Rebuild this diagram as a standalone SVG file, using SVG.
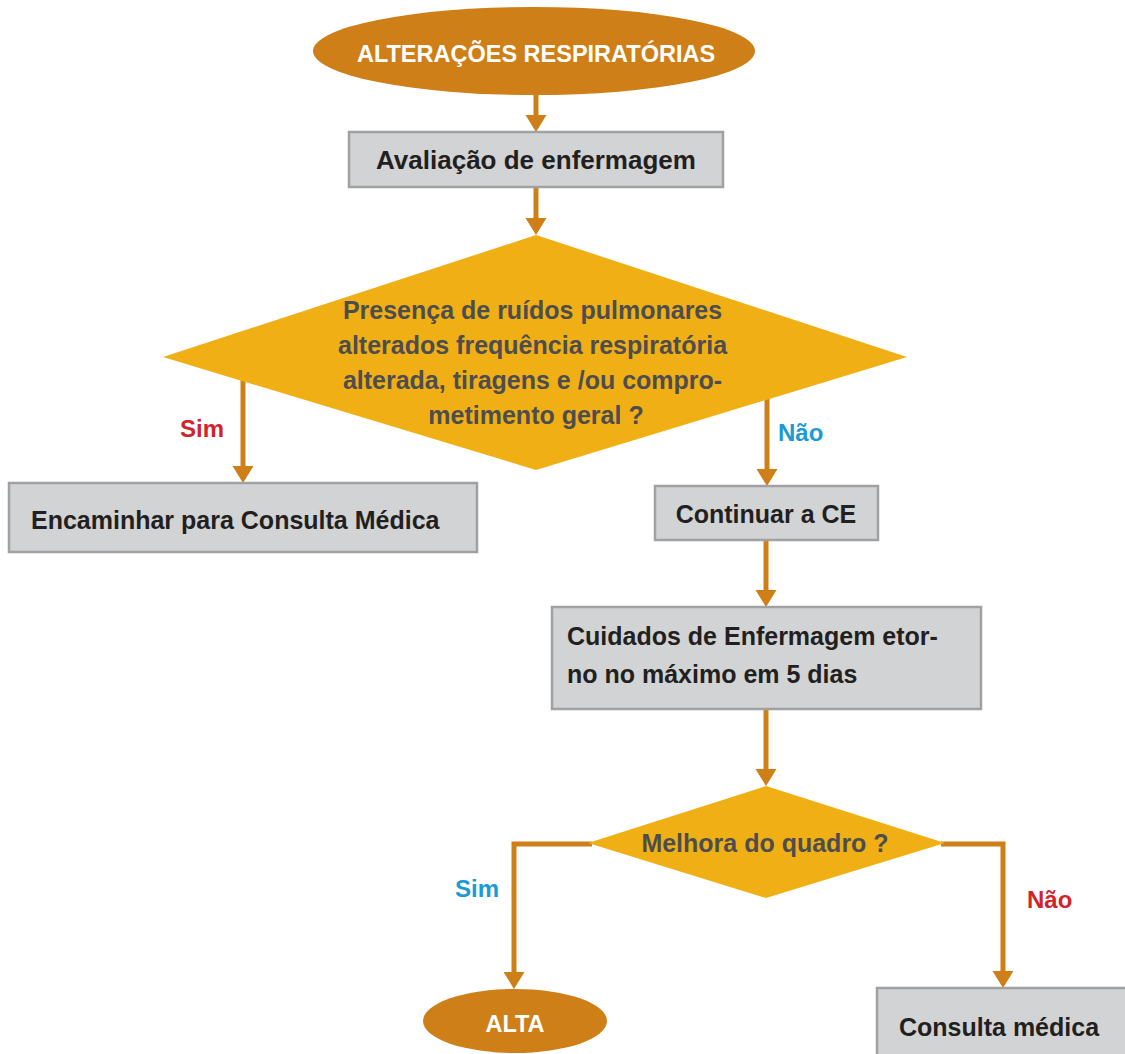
<svg xmlns="http://www.w3.org/2000/svg" width="1125" height="1054" viewBox="0 0 1125 1054">
<style>
  .term { fill: #cf7f17; }
  .box { fill: #d1d3d4; stroke: #a0a1a3; stroke-width: 2.5; }
  .dia { fill: #f0b015; }
  .conn { fill: none; stroke: #cf7f17; stroke-width: 5; }
  text { font-family: "Liberation Sans", Arial, sans-serif; font-weight: bold; }
  .wt { fill: #ffffff; font-size: 23.5px; }
  .bt { fill: #231f20; font-size: 25px; }
  .dt { fill: #4d4d4f; font-size: 25px; }
  .red { fill: #d2232a; font-size: 24px; }
  .blue { fill: #1b9ad6; font-size: 24px; }
</style>
<defs>
  <marker id="arrow" markerUnits="userSpaceOnUse" markerWidth="18" markerHeight="22" refX="0" refY="10.5" orient="auto">
    <path d="M0,0 L17,10.5 L0,21 Z" fill="#cf7f17"/>
  </marker>
</defs>
<rect width="1125" height="1054" fill="#ffffff"/>

<g id="connectors">
  <line class="conn" x1="536" y1="94" x2="536" y2="115" marker-end="url(#arrow)"/>
  <line class="conn" x1="536" y1="187" x2="536" y2="218" marker-end="url(#arrow)"/>
  <line class="conn" x1="243" y1="380" x2="243" y2="466" marker-end="url(#arrow)"/>
  <line class="conn" x1="767" y1="398" x2="767" y2="469" marker-end="url(#arrow)"/>
  <line class="conn" x1="766" y1="540" x2="766" y2="590" marker-end="url(#arrow)"/>
  <line class="conn" x1="766" y1="709" x2="766" y2="769" marker-end="url(#arrow)"/>
  <polyline class="conn" points="592,844 514,844 514,972" marker-end="url(#arrow)"/>
  <polyline class="conn" points="941,844 1003,844 1003,971" marker-end="url(#arrow)"/>
</g>

<g id="start">
  <ellipse class="term" cx="534" cy="51" rx="221" ry="44"/>
  <text class="wt" x="536" y="62" text-anchor="middle">ALTERAÇÕES RESPIRATÓRIAS</text>
</g>

<g id="avaliacao">
  <rect class="box" x="349" y="132" width="374" height="55"/>
  <text class="bt" x="536" y="169" text-anchor="middle" style="font-size:26px">Avaliação de enfermagem</text>
</g>

<g id="decisao1">
  <polygon class="dia" points="536,235 907,357 536,470 163,357"/>
  <text class="dt" text-anchor="middle">
    <tspan x="536" y="319">Presença de ruídos pulmonares</tspan>
    <tspan x="536" y="354">alterados frequência respiratória</tspan>
    <tspan x="536" y="389">alterada, tiragens e /ou compro-</tspan>
    <tspan x="536" y="424">metimento geral ?</tspan>
  </text>
</g>

<g id="label-sim1">
  <text class="red" x="180" y="437">Sim</text>
</g>
<g id="label-nao1">
  <text class="blue" x="778" y="441">Não</text>
</g>

<g id="encaminhar">
  <rect class="box" x="9" y="483" width="468" height="69"/>
  <text class="bt" x="31" y="529">Encaminhar para Consulta Médica</text>
</g>

<g id="continuar">
  <rect class="box" x="655" y="486" width="223" height="54"/>
  <text class="bt" x="766" y="523" text-anchor="middle">Continuar a CE</text>
</g>

<g id="cuidados">
  <rect class="box" x="552" y="607" width="429" height="102"/>
  <text class="bt">
    <tspan x="567" y="645">Cuidados de Enfermagem etor-</tspan>
    <tspan x="567" y="683">no no máximo em 5 dias</tspan>
  </text>
</g>

<g id="decisao2">
  <polygon class="dia" points="766,786 945,843 766,898 588,843"/>
  <text class="dt" x="765" y="852" text-anchor="middle">Melhora do quadro ?</text>
</g>

<g id="label-sim2">
  <text class="blue" x="455" y="897">Sim</text>
</g>
<g id="label-nao2">
  <text class="red" x="1027" y="908">Não</text>
</g>

<g id="alta">
  <ellipse class="term" cx="515" cy="1021" rx="92" ry="32"/>
  <text class="wt" x="515" y="1032" text-anchor="middle">ALTA</text>
</g>

<g id="consulta">
  <rect class="box" x="877" y="988" width="260" height="80"/>
  <text class="bt" x="899" y="1036">Consulta médica</text>
</g>
</svg>
